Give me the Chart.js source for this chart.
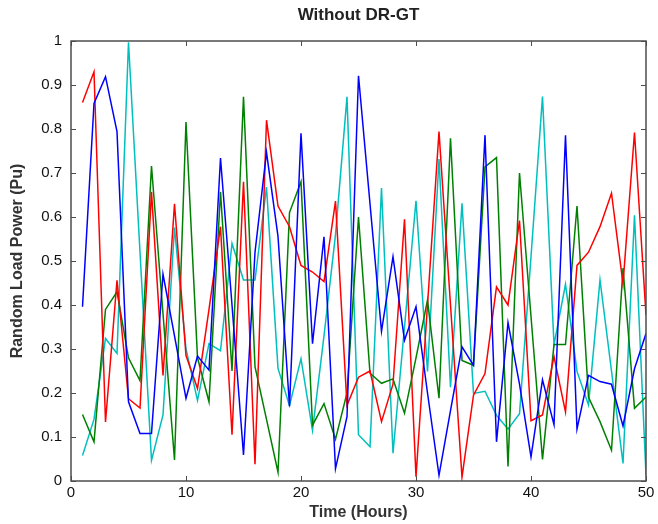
<!DOCTYPE html>
<html>
<head>
<meta charset="utf-8">
<script src="https://cdn.jsdelivr.net/npm/chart.js@4.4.1/dist/chart.umd.min.js"></script>
<style>
  html, body { margin: 0; padding: 0; background: #fff; }
  #wrap { width: 658px; height: 524px; }
</style>
</head>
<body>
<div id="wrap"><canvas id="loadChart"></canvas></div>
<script>
// hours on the x axis
const hours = [1, 2, 3, 4, 5, 6, 7, 8, 9, 10,
               11, 12, 13, 14, 15, 16, 17, 18, 19, 20,
               21, 22, 23, 24, 25, 26, 27, 28, 29, 30,
               31, 32, 33, 34, 35, 36, 37, 38, 39, 40,
               41, 42, 43, 44, 45, 46, 47, 48, 49, 50];

// random load power per series (Pu)
const redLoad = [0.86, 0.93, 0.134, 0.456, 0.187, 0.166, 0.657, 0.24, 0.63, 0.285,
                 0.21, 0.39, 0.578, 0.105, 0.68, 0.038, 0.82, 0.625, 0.578, 0.49,
                 0.475, 0.453, 0.636, 0.172, 0.236, 0.25, 0.135, 0.22, 0.595, 0.01,
                 0.40, 0.794, 0.40, 0.009, 0.195, 0.244, 0.441, 0.40, 0.592, 0.137,
                 0.15, 0.283, 0.157, 0.49, 0.52, 0.578, 0.654, 0.448, 0.792, 0.377];

const blueLoad = [0.396, 0.858, 0.919, 0.794, 0.18, 0.108, 0.108, 0.47, 0.33, 0.188,
                  0.284, 0.252, 0.734, 0.40, 0.059, 0.52, 0.747, 0.556, 0.17, 0.79,
                  0.312, 0.555, 0.028, 0.146, 0.921, 0.63, 0.34, 0.51, 0.32, 0.396,
                  0.2, 0.013, 0.16, 0.305, 0.263, 0.786, 0.089, 0.36, 0.22, 0.055,
                  0.23, 0.128, 0.786, 0.118, 0.24, 0.226, 0.22, 0.125, 0.255, 0.335];

const greenLoad = [0.151, 0.089, 0.39, 0.43, 0.28, 0.228, 0.716, 0.38, 0.048, 0.816,
                   0.28, 0.18, 0.657, 0.25, 0.873, 0.26, 0.14, 0.02, 0.61, 0.68,
                   0.127, 0.176, 0.095, 0.2, 0.6, 0.245, 0.222, 0.232, 0.154, 0.28,
                   0.411, 0.188, 0.779, 0.274, 0.263, 0.714, 0.735, 0.033, 0.7, 0.374,
                   0.049, 0.31, 0.31, 0.625, 0.19, 0.135, 0.07, 0.484, 0.165, 0.191];

const cyanLoad = [0.058, 0.14, 0.324, 0.29, 0.997, 0.52, 0.047, 0.15, 0.576, 0.30,
                  0.183, 0.312, 0.296, 0.54, 0.457, 0.457, 0.668, 0.256, 0.171, 0.278,
                  0.115, 0.33, 0.56, 0.873, 0.105, 0.078, 0.666, 0.063, 0.35, 0.637,
                  0.249, 0.732, 0.213, 0.631, 0.199, 0.204, 0.149, 0.118, 0.153, 0.51,
                  0.874, 0.31, 0.447, 0.249, 0.173, 0.457, 0.25, 0.04, 0.604, 0.013];

const xTickLabels = ['0', '10', '20', '30', '40', '50'];
const yTickLabels = ['0', '0.1', '0.2', '0.3', '0.4', '0.5', '0.6', '0.7', '0.8', '0.9', '1'];

const axisColor = '#4d4d4d';
const fontFamily = '"Liberation Sans", Arial, Helvetica, sans-serif';

function series(values, color) {
    return {
        data: hours.map((h, i) => ({ x: h, y: values[i] })),
        borderColor: color,
        borderWidth: 1.5,
        pointRadius: 0,
        tension: 0,
        fill: false
    };
}

// MATLAB-like box with ticks pointing inwards on all four sides
const boxTicks = {
    id: 'boxTicks',
    afterDatasetsDraw(chart) {
        const { ctx, chartArea: a, scales: { x, y } } = chart;
        const len = 5;
        ctx.save();
        ctx.strokeStyle = axisColor;
        ctx.lineWidth = 1;
        ctx.beginPath();
        x.ticks.forEach(t => {
            const px = Math.round(x.getPixelForValue(t.value)) + 0.5;
            ctx.moveTo(px, a.bottom); ctx.lineTo(px, a.bottom - len);
            ctx.moveTo(px, a.top);    ctx.lineTo(px, a.top + len);
        });
        y.ticks.forEach(t => {
            const py = Math.round(y.getPixelForValue(t.value)) + 0.5;
            ctx.moveTo(a.left, py);  ctx.lineTo(a.left + len, py);
            ctx.moveTo(a.right, py); ctx.lineTo(a.right - len, py);
        });
        ctx.stroke();
        ctx.lineWidth = 1.5;
        ctx.strokeRect(a.left, a.top, a.right - a.left, a.bottom - a.top);
        ctx.restore();
    }
};

new Chart(document.getElementById('loadChart'), {
    type: 'line',
    data: {
        datasets: [
            series(blueLoad, '#0000ff'),
            series(redLoad, '#ff0000'),
            series(greenLoad, '#008000'),
            series(cyanLoad, '#00bfbf')
        ]
    },
    options: {
        responsive: true,
        maintainAspectRatio: false,
        animation: false,
        layout: { padding: { top: 0, right: 12, bottom: 0, left: 0 } },
        plugins: {
            legend: { display: false },
            tooltip: { enabled: false },
            title: {
                display: true,
                fullSize: false,
                text: 'Without DR-GT',
                color: '#222',
                font: { family: fontFamily, size: 17, weight: 'bold' },
                padding: { top: 5, bottom: 15.6 }
            }
        },
        scales: {
            x: {
                type: 'linear',
                min: 0,
                max: 50,
                afterFit: s => { s.height = 43; },
                grid: { display: false, drawTicks: false },
                border: { display: false },
                ticks: {
                    stepSize: 10,
                    padding: 3,
                    color: '#111',
                    maxRotation: 0,
                    font: { family: fontFamily, size: 15 },
                    callback: v => xTickLabels[Math.round(v / 10)]
                },
                title: {
                    display: true,
                    text: 'Time (Hours)',
                    color: '#333',
                    font: { family: fontFamily, size: 16, weight: 'bold' },
                    padding: { top: 0, bottom: 1.4 }
                }
            },
            y: {
                type: 'linear',
                min: 0,
                max: 1,
                afterFit: s => { s.width = 71; },
                grid: { display: false, drawTicks: false },
                border: { display: false },
                ticks: {
                    stepSize: 0.1,
                    padding: 9,
                    color: '#111',
                    font: { family: fontFamily, size: 15 },
                    callback: v => yTickLabels[Math.round(v * 10)]
                },
                title: {
                    display: true,
                    text: 'Random Load Power (Pu)',
                    color: '#333',
                    font: { family: fontFamily, size: 16, weight: 'bold' },
                    padding: { top: 8, bottom: 0 }
                }
            }
        }
    },
    plugins: [boxTicks]
});
</script>
</body>
</html>
